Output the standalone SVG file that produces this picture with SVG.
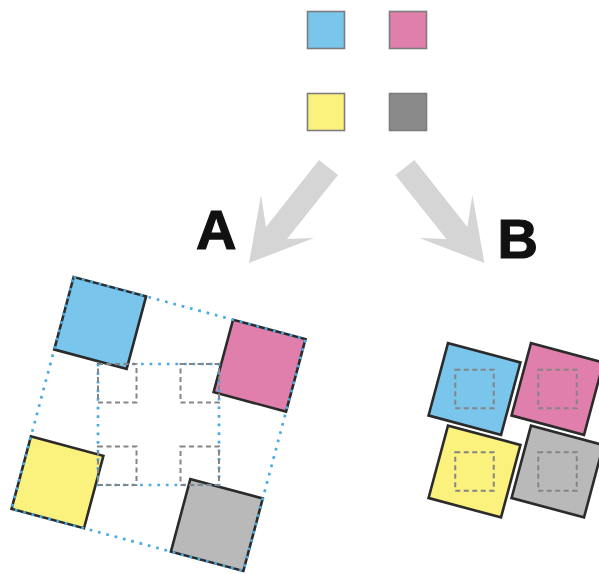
<svg xmlns="http://www.w3.org/2000/svg" width="599" height="574" viewBox="0 0 599 574">
<style>
.src{stroke:#7d7d7d;stroke-width:1.6}
.sq{stroke:#2b2b2b;stroke-width:2.6;stroke-linejoin:miter}
.blue{fill:#7ac5ec}
.pink{fill:#e07fab}
.yellow{fill:#fbf17d}
.grey{fill:#b9b9b9}
.dark{fill:#8a8a8a}
.dot{fill:none;stroke:#4aaae2;stroke-width:2.7;stroke-dasharray:2.7 5.9}
.dash{fill:none;stroke:#858585;stroke-width:2;stroke-dasharray:5 3.5}
.arrow{fill:#d5d5d5}
.lbl{font-family:"Liberation Sans",Arial,sans-serif;font-weight:bold;font-size:56px;fill:#111;stroke:#111;stroke-width:1.2}
</style>
<rect width="599" height="574" fill="#fff"/>
<g id="source">
  <rect class="src blue" x="307.5" y="11.5" width="37" height="37"/>
  <rect class="src pink" x="389.5" y="11.5" width="37" height="37"/>
  <rect class="src yellow" x="307.5" y="93.5" width="37" height="37"/>
  <rect class="src dark" x="389.5" y="93.5" width="37" height="37"/>
</g>
<g id="connectors">
  <polygon class="arrow" points="319,160 338,175 287,239 314,238 249,263 261,195 266,227"/>
  <polygon class="arrow" transform="translate(733.4,0) scale(-1,1)" points="319,160 338,175 287,239 314,238 249,263 261,195 266,227"/>
</g>
<g id="label-A"><text class="lbl" x="196" y="249">A</text></g>
<g id="label-B"><text class="lbl" x="497.5" y="258">B</text></g>
<g id="layout-A">
  <g transform="translate(158.5,424) rotate(15)">
    <rect class="sq blue" x="-120" y="-120" width="75" height="75"/>
    <rect class="sq pink" x="45" y="-120" width="75" height="75"/>
    <rect class="sq yellow" x="-120" y="45" width="75" height="75"/>
    <rect class="sq grey" x="45" y="45" width="75" height="75"/>
    <rect class="dot" x="-120" y="-120" width="240" height="240"/>
  </g>
  <rect class="dot" x="98" y="364" width="121" height="121"/>
  <rect class="dash" x="98" y="364" width="38.5" height="38.5"/>
  <rect class="dash" x="180.5" y="364" width="38.5" height="38.5"/>
  <rect class="dash" x="98" y="446.5" width="38.5" height="38.5"/>
  <rect class="dash" x="180.5" y="446.5" width="38.5" height="38.5"/>
</g>
<g id="layout-B">
  <g transform="translate(474.5,389) rotate(15)"><rect class="sq blue" x="-37.5" y="-37.5" width="75" height="75"/></g>
  <g transform="translate(557.5,389) rotate(15)"><rect class="sq pink" x="-37.5" y="-37.5" width="75" height="75"/></g>
  <g transform="translate(474.5,471.5) rotate(15)"><rect class="sq yellow" x="-37.5" y="-37.5" width="75" height="75"/></g>
  <g transform="translate(557.5,471.5) rotate(15)"><rect class="sq grey" x="-37.5" y="-37.5" width="75" height="75"/></g>
  <rect class="dash" x="455.25" y="369.75" width="38.5" height="38.5"/>
  <rect class="dash" x="538.25" y="369.75" width="38.5" height="38.5"/>
  <rect class="dash" x="455.25" y="452.25" width="38.5" height="38.5"/>
  <rect class="dash" x="538.25" y="452.25" width="38.5" height="38.5"/>
</g>
</svg>
